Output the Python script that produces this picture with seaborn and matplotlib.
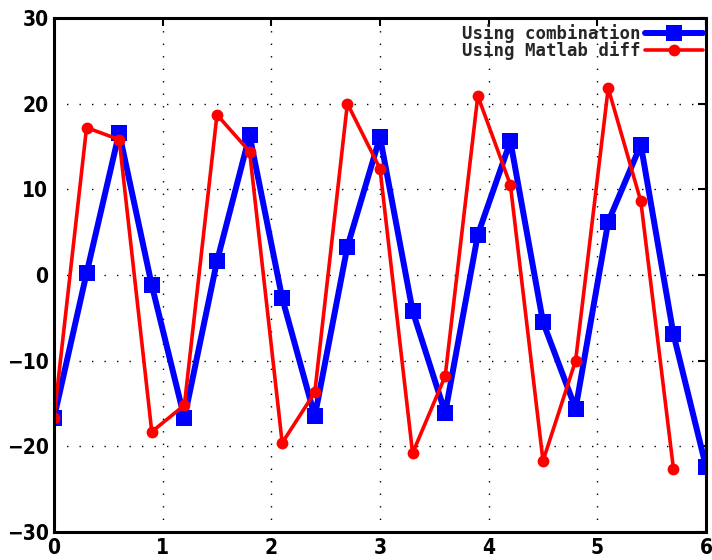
import numpy as np
import pandas as pd
import seaborn as sns
import matplotlib.pyplot as plt

# Werte
x_comb = [0.0, 0.3, 0.6, 0.9, 1.2, 1.5, 1.8, 2.1, 2.4, 2.7, 3.0,
          3.3, 3.6, 3.9, 4.2, 4.5, 4.8, 5.1, 5.4, 5.7, 6.0]
y_comb = [-16.7, 0.2, 16.6, -1.2, -16.7, 1.6, 16.3, -2.7, -16.5, 3.3, 16.1,
          -4.2, -16.1, 4.7, 15.6, -5.5, -15.6, 6.2, 15.2, -6.9, -22.4]

x_diff = [0.0, 0.3, 0.6, 0.9, 1.2, 1.5, 1.8, 2.1, 2.4, 2.7,
          3.0, 3.3, 3.6, 3.9, 4.2, 4.5, 4.8, 5.1, 5.4, 5.7]
y_diff = [-16.7, 17.2, 15.8, -18.3, -15.2, 18.7, 14.4, -19.6, -13.7, 20.0,
          12.4, -20.8, -11.8, 20.9, 10.5, -21.7, -10.0, 21.8, 8.6, -22.6]

labels = ["Using combination", "Using Matlab diff"]
x_ticks = [0, 1, 2, 3, 4, 5, 6]
y_ticks = [-30, -20, -10, 0, 10, 20, 30]

sns.set_style("white")
plt.rcParams["font.family"] = ["DejaVu Sans"]
plt.rcParams["font.stretch"] = "condensed"

fig = plt.figure(figsize=(7.12, 5.6), dpi=100)
ax = fig.add_axes([0.0758, 0.05, 0.9158, 0.918])

df_comb = pd.DataFrame({"x": x_comb, "y": y_comb})
df_diff = pd.DataFrame({"x": x_diff, "y": y_diff})

sns.lineplot(data=df_comb, x="x", y="y", ax=ax, color="#0000ff", linewidth=4.3,
             marker="s", markersize=12, markeredgewidth=0, label=labels[0])
sns.lineplot(data=df_diff, x="x", y="y", ax=ax, color="#ff0000", linewidth=2.6,
             marker="o", markersize=8.5, markeredgewidth=0, label=labels[1])

ax.set_xlim(0, 6)
ax.set_ylim(-30, 30)
ax.set_xticks(x_ticks)
ax.set_yticks(y_ticks)
ax.set_xlabel("")
ax.set_ylabel("")

ax.grid(True, color="black", linestyle=(0, (1, 8)), linewidth=1.0)
for s in ax.spines.values():
    s.set_color("black")
    s.set_linewidth(2.2)
ax.tick_params(direction="in", length=6, width=1.5, top=True, right=True,
               labelsize=15, colors="black", pad=4)
for t in ax.get_xticklabels() + ax.get_yticklabels():
    t.set_fontweight("bold")
    t.set_fontstretch("condensed")

leg = ax.legend(loc="upper right", bbox_to_anchor=(1.0, 0.995), frameon=False,
                markerfirst=False, handlelength=3.3, borderaxespad=0.0,
                borderpad=0.2, labelspacing=-0.1, handletextpad=0.3,
                prop={"family": ["DejaVu Sans Mono"],
                      "size": 12.5, "weight": "bold"})

plt.savefig("out.png", dpi=100)
